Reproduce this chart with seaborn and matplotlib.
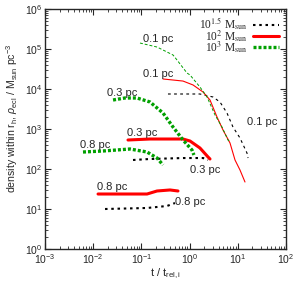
import numpy as np
import pandas as pd
import matplotlib
matplotlib.use("Agg")
import matplotlib.pyplot as plt
import seaborn as sns
from matplotlib.font_manager import FontProperties

# values (t / t_rel,i , density in Msun pc^-3)
# 10^1.5 Msun
m15_01_t = [0.356, 1.64, 3.06, 4.27, 5.97, 7.94, 11.1, 15.5, 16.3]
m15_01_r = [7500, 7500, 6310, 4730, 2510, 1120, 596, 251, 188]
m15_03_t = [0.067, 0.151, 0.730, 1.90, 2.41]
m15_03_r = [168, 178, 188, 188, 168]
m15_08_t = [0.0176, 0.131, 0.340, 0.498]
m15_08_r = [10.0, 10.6, 11.9, 14.1]
# 10^2 Msun
m2_01_t = [0.281, 0.730, 1.18, 1.90, 2.65, 3.70, 4.93, 6.89, 8.75, 11.1, 14.1]
m2_01_r = [17800, 15800, 12600, 8410, 5310, 2000, 944, 447, 168, 94.4, 47.3]
m2_03_t = [0.0527, 0.151, 0.730, 1.02, 1.64, 2.41, 2.65]
m2_03_r = [531, 562, 562, 501, 335, 200, 178]
m2_08_t = [0.0126, 0.131, 0.211, 0.392, 0.574]
m2_08_r = [23.7, 23.7, 28.2, 29.9, 28.2]
# 10^3 Msun
m3_01_t = [0.0935, 0.211, 0.453, 0.548, 0.883, 1.02, 1.64, 2.30, 3.37, 4.70, 6.26, 6.89]
m3_01_r = [141000, 112000, 70800, 53100, 25100, 22400, 11200, 6310, 2240, 1120, 531, 473]
m3_03_t = [0.0258, 0.0457, 0.081, 0.151, 0.281, 0.453, 0.730, 1.12, 1.23]
m3_03_r = [5310, 5960, 5960, 4730, 2510, 1120, 531, 299, 224]
m3_08_t = [0.00614, 0.01595, 0.058, 0.131, 0.211, 0.281]
m3_08_r = [266, 282, 316, 266, 188, 126]

masses = ["1.5", "2", "3"]
radii = ["0.1 pc", "0.3 pc", "0.8 pc"]
series = {
    ("1.5", "0.1 pc"): (m15_01_t, m15_01_r), ("1.5", "0.3 pc"): (m15_03_t, m15_03_r),
    ("1.5", "0.8 pc"): (m15_08_t, m15_08_r),
    ("2", "0.1 pc"): (m2_01_t, m2_01_r), ("2", "0.3 pc"): (m2_03_t, m2_03_r),
    ("2", "0.8 pc"): (m2_08_t, m2_08_r),
    ("3", "0.1 pc"): (m3_01_t, m3_01_r), ("3", "0.3 pc"): (m3_03_t, m3_03_r),
    ("3", "0.8 pc"): (m3_08_t, m3_08_r),
}
# curve labels: (mass, radius) -> (t, rho) of text anchor
label_pos = {
    ("3", "0.1 pc"): (0.108, 178000), ("2", "0.1 pc"): (0.108, 23700),
    ("1.5", "0.1 pc"): (15.5, 1500), ("3", "0.3 pc"): (0.0193, 7940),
    ("2", "0.3 pc"): (0.0502, 794), ("1.5", "0.3 pc"): (1.02, 94.4),
    ("3", "0.8 pc"): (0.00532, 398), ("2", "0.8 pc"): (0.012, 35.5),
    ("1.5", "0.8 pc"): (0.498, 15.0),
}

rows = []
for (m, r), (ts, rs) in series.items():
    for i, (t, rho) in enumerate(zip(ts, rs)):
        rows.append(dict(mass=m, radius=r, t=t, rho=rho, order=i))
df = pd.DataFrame(rows)

colors = {"1.5": "black", "2": "#ff0000", "3": "#00a000"}
thick_style = {"1.5": dict(lw=1.5, dashes=(1.2, 1.8)),
               "2": dict(lw=2.2, dashes=None),
               "3": dict(lw=2.4, dashes=(0.9, 0.6))}
thin_style = {"1.5": dict(lw=0.8, dashes=(2.5, 3)),
              "2": dict(lw=0.8, dashes=None),
              "3": dict(lw=0.7, dashes=(3, 2))}

sns.set_style("ticks")
plt.rcParams["font.family"] = ["Liberation Sans", "DejaVu Sans"]
plt.rcParams["mathtext.fontset"] = "custom"
plt.rcParams["mathtext.rm"] = "Liberation Sans"
plt.rcParams["mathtext.it"] = "Liberation Sans:italic"
plt.rcParams["mathtext.bf"] = "Liberation Sans:bold"

fig = plt.figure(figsize=(2.93, 2.81), dpi=100)
ax = fig.add_axes([45 / 293, 1 - 249 / 281, 241 / 293, 240 / 281])

handles = {}
for m in masses:
    for r in radii:
        sub = df[(df.mass == m) & (df.radius == r)].sort_values("order")
        st = thin_style[m] if r == "0.1 pc" else thick_style[m]
        sns.lineplot(data=sub, x="t", y="rho", ax=ax, color=colors[m], lw=st["lw"],
                     sort=False, estimator=None, legend=False)
        line = ax.lines[-1]
        if st["dashes"] is not None:
            line.set_dashes(st["dashes"])
        if r == "0.3 pc":
            handles[m] = line
        lt, lr = label_pos[(m, r)]
        ax.text(lt, lr, r, fontsize=8, ha="left", va="center")

ax.set_xscale("log")
ax.set_yscale("log")
ax.set_xlim(0.001, 100)
ax.set_ylim(1, 1e6)
ax.set_xlabel(r"t / t$_{\mathrm{rel,i}}$", fontsize=8, labelpad=1)
ax.set_ylabel(r"density within r$_\mathrm{h}$, $\rho_\mathrm{ecl}$ / M$_\mathrm{sun}$ pc$^{-3}$",
              fontsize=7.6)
ax.yaxis.set_label_coords(-0.105, 0.545)
ax.tick_params(which="both", direction="in", top=True, right=True, labelsize=7.5, pad=2)
ax.tick_params(which="major", length=4, width=0.8)
ax.tick_params(which="minor", length=2, width=0.6)
for s in ax.spines.values():
    s.set_linewidth(1.0)

leg_labels = [r"10$^{1.5}$ M$_\mathrm{sun}$", r"10$^{2}$ M$_\mathrm{sun}$", r"10$^{3}$ M$_\mathrm{sun}$"]
leg = ax.legend([handles[m] for m in masses], leg_labels, loc="upper right", frameon=False,
                markerfirst=False, handlelength=2.3, handletextpad=0.4, labelspacing=-0.4,
                borderaxespad=0.3, borderpad=0.3,
                prop=FontProperties(family="Liberation Serif", size=8.3, math_fontfamily="stix"))
for t in leg.get_texts():
    t.set_ha("right")

fig.savefig("out.png", dpi=100)
